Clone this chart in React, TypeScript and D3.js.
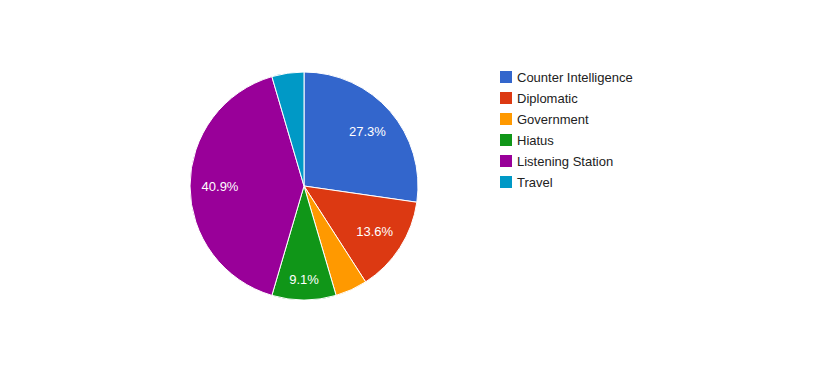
import React from 'react';
import * as d3 from 'd3';

const categories = ['Counter Intelligence', 'Diplomatic', 'Government', 'Hiatus', 'Listening Station', 'Travel'];
const values = [6, 3, 1, 2, 9, 1];
const colors = ['#3366cc', '#dc3912', '#ff9900', '#109618', '#990099', '#0099c6'];

const W = 822;
const H = 371;
const cx = 304;
const cy = 186;
const radius = 114;

export default function App() {
  const total = d3.sum(values);
  const data = categories.map((c, i) => ({ label: c, value: values[i], color: colors[i] }));

  const pie = d3.pie<any>().value(d => d.value).sort(null);
  const arcs = pie(data);
  const arc = d3.arc<any>().innerRadius(0).outerRadius(radius);
  const labelArc = d3.arc<any>().innerRadius(168).outerRadius(0);
  // narrow slices get their label pushed out a bit, like google charts does
  const narrowArc = d3.arc<any>().innerRadius(186).outerRadius(0);
  const fmt = d3.format('.1%');

  // legend
  const legendY = d3.scalePoint().domain(categories).range([77, 182]);

  return (
    <div style={{ margin: -8 }}>
      <svg width={W} height={H} style={{ display: 'block', fontFamily: 'Arial, "Liberation Sans", sans-serif' }}>
        <rect width={W} height={H} fill="#fff" />
        <g transform={`translate(${cx},${cy})`}>
          {arcs.map((a, i) => (
            <path key={i} d={arc(a) || ''} fill={a.data.color} stroke="#fff" strokeWidth={1} />
          ))}
          {arcs.map((a, i) => {
            const share = a.data.value / total;
            if (share < 0.05) return null;
            const [x, y] = (share < 0.1 ? narrowArc : labelArc).centroid(a);
            return (
              <text key={i} x={x} y={y} dy="0.35em" textAnchor="middle" fill="#fff" fontSize={13}>
                {fmt(share)}
              </text>
            );
          })}
        </g>
        <g>
          {categories.map((c, i) => (
            <g key={c} transform={`translate(500,${legendY(c)})`}>
              <rect x={0} y={-6} width={12} height={12} fill={colors[i]} />
              <text x={17} y={0} dy="0.35em" fontSize={13} fill="#222">{c}</text>
            </g>
          ))}
        </g>
      </svg>
    </div>
  );
}
